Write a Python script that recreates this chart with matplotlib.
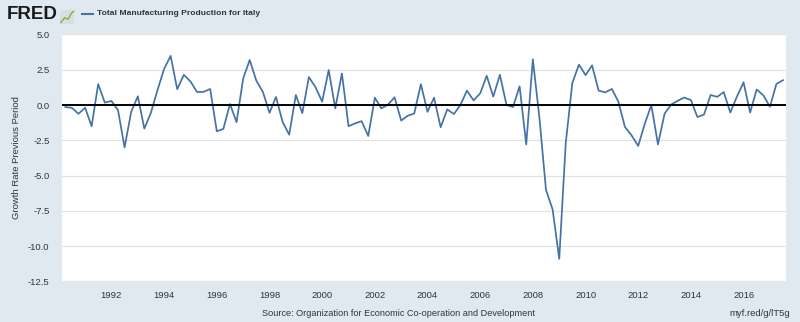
import matplotlib
matplotlib.use("Agg")
import matplotlib.pyplot as plt
import matplotlib.dates as mdates
from matplotlib.patches import Rectangle
from matplotlib.lines import Line2D
import pandas as pd

# quarterly growth rate, previous period (%), 1990 Q2 .. 2017 Q3
start_quarter = "1990-04-01"
growth = [
    -0.14, -0.20, -0.62, -0.19, -1.50, 1.48, 0.17, 0.29, -0.36, -3.00,
    -0.48, 0.62, -1.67, -0.55, 1.07, 2.57, 3.48, 1.12, 2.14, 1.67,
    0.93, 0.93, 1.14, -1.86, -1.69, 0.07, -1.21, 1.88, 3.19, 1.74,
    0.93, -0.55, 0.57, -1.19, -2.10, 0.71, -0.57, 1.98, 1.26, 0.24,
    2.48, -0.24, 2.24, -1.50, -1.30, -1.14, -2.19, 0.52, -0.24, 0.02,
    0.55, -1.10, -0.76, -0.60, 1.48, -0.48, 0.52, -1.57, -0.31, -0.64,
    0.00, 1.02, 0.33, 0.83, 2.07, 0.60, 2.14, 0.00, -0.14, 1.33,
    -2.79, 3.24, -0.90, -6.00, -7.40, -10.90, -2.70, 1.55, 2.86, 2.12,
    2.81, 1.02, 0.90, 1.14, 0.24, -1.55, -2.15, -2.90, -1.33, 0.00,
    -2.79, -0.61, 0.03, 0.30, 0.53, 0.35, -0.85, -0.68, 0.71, 0.58,
    0.92, -0.53, 0.60, 1.61, -0.53, 1.10, 0.69, -0.12, 1.50, 1.76,
]
y_ticks = [5.0, 2.5, 0.0, -2.5, -5.0, -7.5, -10.0, -12.5]
tick_years = list(range(1992, 2017, 2))

series_name = "Total Manufacturing Production for Italy"
y_title = "Growth Rate Previous Period"
source_text = "Source: Organization for Economic Co-operation and Development"
short_url = "myf.red/g/lT5g"

BG = "#e1e9f0"
LINE = "#4572a7"
TXT = "#333333"
plt.rcParams["font.family"] = ["Liberation Sans", "DejaVu Sans"]

dates = pd.date_range(start_quarter, periods=len(growth), freq="QS")

fig = plt.figure(figsize=(8, 3.22), dpi=100, facecolor=BG)
ax = fig.add_axes([0.0775, 0.1258, 0.905, 0.7672])
ax.set_facecolor("white")

ax.plot(dates, growth, color=LINE, lw=1.25, zorder=3)
ax.axhline(0, color="black", lw=1.4, zorder=4)

# small padding so the first/last points sit just inside the box
d0 = mdates.date2num(dates[0])
d1 = mdates.date2num(dates[-1])
per_px = (d1 - d0) / 717.0
ax.set_xlim(d0 - 3.3 * per_px, d1 + 3.0 * per_px)
ax.set_ylim(-12.5, 5.0)

ax.set_yticks(y_ticks)
ax.set_yticklabels([f"{v:.1f}" for v in y_ticks])
ax.set_xticks([mdates.date2num(pd.Timestamp(f"{y}-01-01")) for y in tick_years])
ax.set_xticklabels([str(y) for y in tick_years])
ax.grid(axis="y", color="#e3e3e3", lw=0.9, zorder=1)
ax.tick_params(axis="both", length=0, labelsize=6.8, colors=TXT)
ax.tick_params(axis="y", pad=9)
ax.tick_params(axis="x", pad=7)
for s in ax.spines.values():
    s.set_visible(False)

ax.set_ylabel(y_title, fontsize=6.8, color=TXT)
ax.yaxis.set_label_coords(-0.057, 0.5)

# header: logo, icon, legend entry
fig.text(0.008, 0.955, "FRED", fontsize=13.5, fontweight="bold", color="#1a1a1a",
         va="center", ha="left")
fig.patches.append(Rectangle((0.075, 0.925), 0.018, 0.045, transform=fig.transFigure,
                             facecolor="#d9dee3", edgecolor="none"))
fig.lines.append(Line2D([0.076, 0.081, 0.085, 0.089, 0.092],
                        [0.930, 0.945, 0.940, 0.958, 0.965],
                        transform=fig.transFigure, color="#7cb342", lw=1.0))
fig.lines.append(Line2D([0.1025, 0.1165], [0.957, 0.957], transform=fig.transFigure,
                        color=LINE, lw=1.5))
fig.text(0.121, 0.957, series_name, fontsize=6.1, fontweight="bold", color=TXT,
         va="center", ha="left")

# footer
fig.text(0.4985, 0.025, source_text, fontsize=6.6, color=TXT, ha="center", va="center")
fig.text(0.988, 0.025, short_url, fontsize=6.8, color=TXT, ha="right", va="center")

fig.savefig("out.png", dpi=100, facecolor=BG)
